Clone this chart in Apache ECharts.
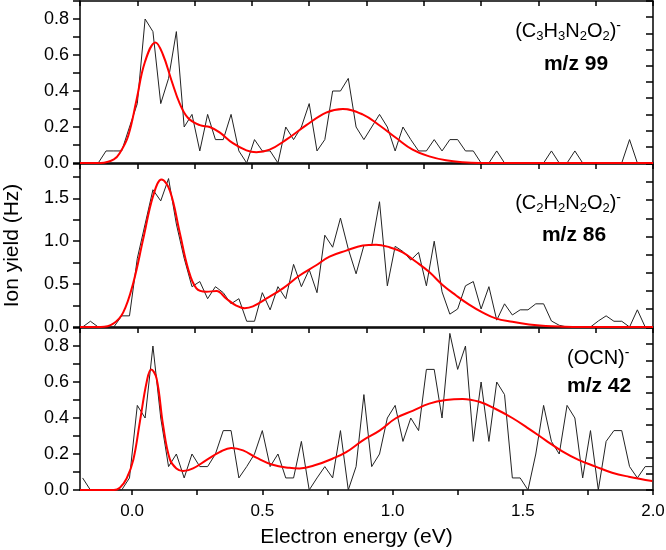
<!DOCTYPE html>
<html>
<head>
<meta charset="utf-8">
<script src="https://cdn.jsdelivr.net/npm/echarts@6/dist/echarts.min.js"></script>
<style>html,body{margin:0;padding:0;background:#fff;}#c{width:666px;height:550px;}</style>
</head>
<body>
<div id="c"></div>
<script>
// Electron energy (eV) of the measured points
const energy = [-0.19,-0.16,-0.13,-0.10,-0.07,-0.04,-0.01,0.02,0.05,0.08,
  0.11,0.14,0.17,0.20,0.23,0.26,0.29,0.32,0.35,0.38,
  0.41,0.44,0.47,0.50,0.53,0.56,0.59,0.62,0.65,0.68,
  0.71,0.74,0.77,0.80,0.83,0.86,0.89,0.92,0.95,0.98,
  1.01,1.04,1.07,1.10,1.13,1.16,1.19,1.22,1.25,1.28,
  1.31,1.34,1.37,1.40,1.43,1.46,1.49,1.52,1.55,1.58,
  1.61,1.64,1.67,1.70,1.73,1.76,1.79,1.82,1.85,1.88,
  1.91,1.94,1.97,2.00];
// Ion yields (Hz)
const yield99 = [0,0,0,0.067,0.067,0.067,0.2,0.33,0.8,0.73,
  0.33,0.47,0.73,0.2,0.27,0.067,0.27,0.13,0.13,0.27,
  0.067,0,0.13,0.067,0.067,0,0.2,0.13,0.2,0.33,
  0.067,0.13,0.4,0.4,0.47,0.2,0.13,0.2,0.27,0.2,
  0.067,0.2,0.13,0.067,0.067,0.13,0.067,0.13,0.13,0.067,
  0.067,0,0,0.067,0,0,0,0,0,0,
  0.067,0,0,0.067,0,0,0,0,0,0,
  0.13,0,0,0];
const yield86 = [0,0.067,0,0,0,0.13,0.13,0.8,1.2,1.6,
  1.47,1.73,1.2,0.8,0.47,0.53,0.33,0.47,0.4,0.27,
  0.33,0.067,0.067,0.4,0.2,0.47,0.33,0.73,0.47,0.67,
  0.4,1.07,0.93,1.27,0.91,0.62,0.95,0.95,1.46,0.48,
  0.94,0.88,0.78,0.87,0.48,1.0,0.41,0.15,0.21,0.48,
  0.53,0.21,0.47,0.08,0.27,0.14,0.2,0.2,0.27,0.27,
  0.07,0.02,0,0,0,0,0.07,0.13,0.067,0.067,
  0,0.2,0,0];
const yield42 = [0.067,0,0,0,0,0,0.067,0.47,0.4,0.8,
  0.4,0.13,0.2,0.067,0.2,0.13,0.13,0.2,0.33,0.33,
  0.067,0.13,0.2,0.33,0.13,0.2,0.067,0.067,0.27,0,
  0.067,0.13,0.067,0.33,0,0.13,0.53,0.13,0.2,0.4,
  0.47,0.27,0.4,0.33,0.67,0.67,0.4,0.87,0.67,0.8,
  0.27,0.6,0.27,0.6,0.53,0.067,0.067,0,0.2,0.47,
  0.27,0.2,0.47,0.4,0.067,0.33,0,0.27,0.33,0.33,
  0.13,0.067,0.13,0.13];
// Fitted curves [energy, yield]
const fit99 = [[-0.2,0],[-0.12,0],[-0.07,0.02],[-0.047,0.056],[-0.015,0.15],[0.017,0.35],[0.049,0.56],[0.09,0.67],[0.119,0.6],[0.151,0.46],[0.183,0.33],[0.215,0.25],[0.26,0.21],[0.298,0.2],[0.336,0.17],[0.387,0.11],[0.439,0.07],[0.477,0.06],[0.528,0.074],[0.592,0.13],[0.669,0.21],[0.745,0.28],[0.809,0.3],[0.885,0.27],[0.949,0.21],[1.013,0.14],[1.077,0.074],[1.141,0.037],[1.205,0.015],[1.269,0.004],[1.333,0],[2.0,0]];
const fit86 = [[-0.2,0],[-0.12,0],[-0.072,0.04],[-0.034,0.17],[0.005,0.52],[0.043,1.03],[0.081,1.53],[0.113,1.72],[0.145,1.59],[0.183,1.1],[0.215,0.68],[0.247,0.45],[0.285,0.41],[0.324,0.42],[0.362,0.33],[0.4,0.25],[0.432,0.22],[0.464,0.24],[0.515,0.33],[0.579,0.45],[0.643,0.6],[0.707,0.72],[0.758,0.82],[0.822,0.89],[0.886,0.95],[0.937,0.96],[0.988,0.93],[1.039,0.87],[1.09,0.76],[1.141,0.64],[1.192,0.49],[1.243,0.37],[1.294,0.26],[1.345,0.17],[1.396,0.1],[1.46,0.06],[1.524,0.03],[1.588,0.012],[1.652,0.004],[1.716,0],[2.0,0]];
const fit42 = [[-0.2,0],[-0.07,0],[-0.047,0.013],[-0.021,0.064],[0.005,0.17],[0.03,0.38],[0.056,0.6],[0.073,0.67],[0.094,0.62],[0.119,0.36],[0.145,0.17],[0.17,0.12],[0.196,0.105],[0.234,0.12],[0.285,0.166],[0.336,0.21],[0.381,0.234],[0.426,0.22],[0.477,0.18],[0.54,0.14],[0.604,0.123],[0.643,0.12],[0.707,0.14],[0.771,0.175],[0.822,0.21],[0.886,0.276],[0.95,0.33],[1.014,0.4],[1.077,0.44],[1.141,0.48],[1.205,0.5],[1.269,0.506],[1.333,0.49],[1.396,0.45],[1.46,0.4],[1.524,0.34],[1.588,0.276],[1.652,0.215],[1.716,0.166],[1.78,0.13],[1.843,0.096],[1.907,0.074],[1.997,0.05]];
// Tick / label values
const xTickValues = [0,0.25,0.5,0.75,1.0,1.25,1.5,1.75,2.0];
const xLabelValues = [0,0.5,1.0,1.5,2.0];
const yMax = [0.9,1.9,0.9];
const yInterval = [0.1,0.25,0.1];
const yLabelStep = [0.2,0.5,0.2];
const rightDivisions = [10,9,10];

const FONT = '"Liberation Sans", Arial, Helvetica, sans-serif';
const lineStyle = {color:'#000', width:1.5};
const grids = [
  {left:80, right:13, top:1, height:162},
  {left:80, right:13, top:164, height:163},
  {left:80, right:13, top:328, height:162}
].map(g => Object.assign({outerBoundsMode:'none', containLabel:false}, g));

const xAxis = [], yAxis = [];
for (let i = 0; i < 3; i++) {
  const last = i === 2;
  xAxis.push({
    type:'value', gridIndex:i, position:'bottom', min:-0.2, max:2.0,
    axisLine:{show:true, onZero:false, lineStyle},
    axisTick: last ? {show:true, inside:false, length:5, lineStyle, customValues:xTickValues} : {show:false},
    axisLabel: last ? {show:true, margin:13, fontSize:17, color:'#000', fontFamily:FONT,
      customValues:xLabelValues, formatter:v => Number(v).toFixed(1)} : {show:false},
    splitLine:{show:false},
    name: last ? 'Electron energy (eV)' : '',
    nameLocation:'middle', nameGap:37, nameMoveOverlap:false,
    nameTextStyle:{fontSize:21, color:'#000', fontFamily:FONT, padding:[0,20,0,0]}
  });
  xAxis.push({
    type:'value', gridIndex:i, position:'top', min:-0.2, max:2.0, interval:0.22,
    axisLine:{show:true, onZero:false, lineStyle},
    axisTick:{show:true, inside:true, length:5, lineStyle},
    axisLabel:{show:false}, splitLine:{show:false}
  });
  const step = yLabelStep[i];
  yAxis.push({
    type:'value', gridIndex:i, position:'left', min:0, max:yMax[i], interval:yInterval[i],
    axisLine:{show:true, onZero:false, lineStyle},
    axisTick:{show:true, inside:false, length:7, lineStyle},
    axisLabel:{show:true, margin:11, fontSize:18, color:'#000', fontFamily:FONT,
      formatter:v => { const r = v/step; return Math.abs(r - Math.round(r)) < 1e-6 ? v.toFixed(1) : ''; }},
    splitLine:{show:false},
    name: i === 1 ? 'Ion yield (Hz)' : '',
    nameLocation:'middle', nameGap:57, nameMoveOverlap:false,
    nameTextStyle:{fontSize:21, color:'#000', fontFamily:FONT}
  });
  yAxis.push({
    type:'value', gridIndex:i, position:'right', min:0, max:rightDivisions[i], interval:1,
    axisLine:{show:true, onZero:false, lineStyle},
    axisTick:{show:true, inside:true, length:7, lineStyle},
    axisLabel:{show:false}, splitLine:{show:false}
  });
}

const raw = [yield99, yield86, yield42];
const fits = [fit99, fit86, fit42];
const series = [];
for (let i = 0; i < 3; i++) {
  series.push({
    type:'line', xAxisIndex:2*i, yAxisIndex:2*i, symbol:'none', silent:true,
    data: energy.map((x, k) => [x, raw[i][k]]),
    lineStyle:{color:'#222', width:1}, z:2
  });
  series.push({
    type:'line', xAxisIndex:2*i, yAxisIndex:2*i, symbol:'none', silent:true, smooth:0.4,
    data: fits[i], lineStyle:{color:'#ff0000', width:2}, z:3
  });
}

const rich = {
  n:{fontSize:20, fontFamily:FONT, color:'#000', lineHeight:24, verticalAlign:'middle'},
  s:{fontSize:13, fontFamily:FONT, color:'#000', lineHeight:13, verticalAlign:'bottom'},
  p:{fontSize:14, fontFamily:FONT, color:'#000', lineHeight:6, verticalAlign:'top'}
};
const bold = 'bold 21px ' + FONT;
const graphic = [
  {type:'text', x:621, y:31, z:10, style:{text:'{n|(C}{s|3}{n|H}{s|3}{n|N}{s|2}{n|O}{s|2}{n|)}{p|-}', rich, align:'right', verticalAlign:'middle'}},
  {type:'text', x:576, y:64, z:10, style:{text:'m/z 99', font:bold, fill:'#000', align:'center', verticalAlign:'middle'}},
  {type:'text', x:621, y:203, z:10, style:{text:'{n|(C}{s|2}{n|H}{s|2}{n|N}{s|2}{n|O}{s|2}{n|)}{p|-}', rich, align:'right', verticalAlign:'middle'}},
  {type:'text', x:574, y:235, z:10, style:{text:'m/z 86', font:bold, fill:'#000', align:'center', verticalAlign:'middle'}},
  {type:'text', x:567, y:358, z:10, style:{text:'{n|(OCN)}{p|-}', rich, align:'left', verticalAlign:'middle'}},
  {type:'text', x:567, y:386, z:10, style:{text:'m/z 42', font:bold, fill:'#000', align:'left', verticalAlign:'middle'}}
];

const chart = echarts.init(document.getElementById('c'), null, {renderer:'canvas'});
chart.setOption({
  animation:false,
  backgroundColor:'#fff',
  grid:grids, xAxis, yAxis, series, graphic
});
</script>
</body>
</html>
